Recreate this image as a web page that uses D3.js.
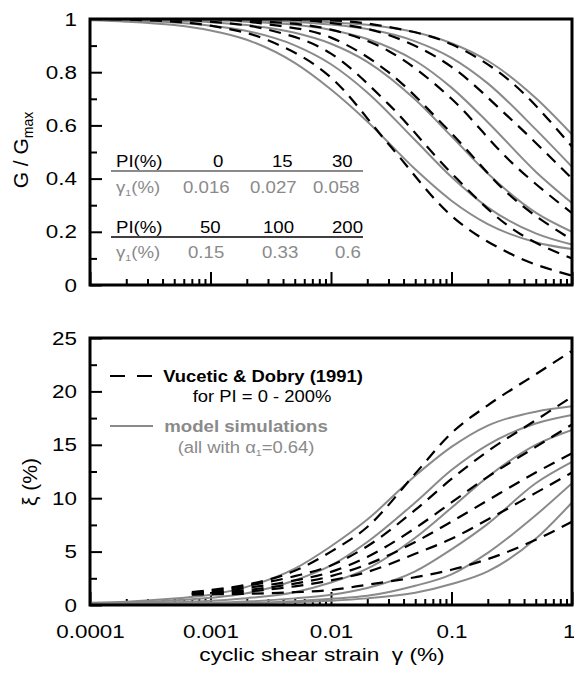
<!DOCTYPE html>
<html>
<head>
<meta charset="utf-8">
<script src="https://cdnjs.cloudflare.com/ajax/libs/d3/7.8.5/d3.min.js"></script>
<style>
  body { margin: 0; background: #fff; }
  text { font-family: 'Liberation Sans', Arial, sans-serif; }
</style>
</head>
<body>
<svg width="574" height="673"></svg>
<script>

// strain grids (%)
let strainModel = [1e-4, 2e-4, 5e-4, 1e-3, 2e-3, 5e-3, 0.01, 0.02, 0.05, 0.1, 0.2, 0.5, 1];
let strainVD = [1e-4, 3e-4, 1e-3, 3e-3, 0.01, 0.03, 0.1, 0.3, 1];
let strainVDdamp = [0.0007, 0.001, 0.002, 0.005, 0.01, 0.02, 0.05, 0.1, 0.2, 0.5, 1];

let PI = [0, 15, 30, 50, 100, 200];
let gamma1 = ['0.016', '0.027', '0.058', '0.15', '0.33', '0.6'];

// G/Gmax, Vucetic & Dobry (1991)
let vdG0   = [1, 0.995, 0.975, 0.92, 0.78, 0.53, 0.26, 0.12, 0.035];
let vdG15  = [1, 1, 0.99, 0.96, 0.87, 0.68, 0.42, 0.22, 0.10];
let vdG30  = [1, 1, 1, 0.98, 0.93, 0.80, 0.57, 0.34, 0.17];
let vdG50  = [1, 1, 1, 0.99, 0.96, 0.88, 0.70, 0.47, 0.27];
let vdG100 = [1, 1, 1, 1, 0.985, 0.94, 0.82, 0.63, 0.40];
let vdG200 = [1, 1, 1, 1, 0.995, 0.97, 0.905, 0.77, 0.52];

// G/Gmax, model simulations
let modG0   = [0.995, 0.99, 0.977, 0.957, 0.922, 0.835, 0.735, 0.615, 0.435, 0.317, 0.229, 0.161, 0.135];
let modG15  = [0.997, 0.994, 0.987, 0.975, 0.955, 0.901, 0.830, 0.724, 0.544, 0.406, 0.292, 0.194, 0.152];
let modG30  = [0.998, 0.997, 0.993, 0.988, 0.977, 0.948, 0.907, 0.839, 0.697, 0.559, 0.419, 0.272, 0.200];
let modG50  = [0.999, 0.999, 0.997, 0.995, 0.990, 0.978, 0.959, 0.925, 0.843, 0.742, 0.612, 0.426, 0.308];
let modG100 = [1, 1, 0.999, 0.997, 0.995, 0.989, 0.979, 0.962, 0.916, 0.854, 0.758, 0.585, 0.444];
let modG200 = [1, 1, 1, 0.999, 0.998, 0.994, 0.988, 0.978, 0.950, 0.909, 0.843, 0.703, 0.566];

// damping (%), Vucetic & Dobry (1991)
let vdD0   = [1.2, 1.4, 1.9, 3.2, 5.0, 7.3, 12.3, 16.1, 18.7, 21.6, 23.8];
let vdD15  = [1.1, 1.3, 1.8, 2.7, 3.7, 5.5, 8.9, 11.8, 14.4, 17.3, 19.5];
let vdD30  = [1.1, 1.2, 1.6, 2.3, 3.1, 4.5, 7.2, 9.6, 12.0, 14.8, 16.9];
let vdD50  = [1.0, 1.1, 1.4, 2.0, 2.7, 3.8, 5.9, 7.8, 9.8, 12.4, 14.2];
let vdD100 = [1.0, 1.05, 1.25, 1.75, 2.3, 3.1, 4.8, 6.2, 8.0, 10.5, 12.4];
let vdD200 = [1.0, 1.0, 1.05, 1.2, 1.4, 1.9, 2.6, 3.3, 4.3, 6.1, 7.8];

// damping (%), model simulations
let modD0   = [0.2, 0.3, 0.6, 0.95, 1.7, 3.4, 5.5, 8.0, 12.1, 14.8, 16.8, 18.1, 18.6];
let modD15  = [0.15, 0.22, 0.43, 0.67, 1.1, 2.3, 3.7, 5.9, 9.6, 12.64, 15.0, 17.0, 17.8];
let modD30  = [0.08, 0.14, 0.25, 0.40, 0.64, 1.2, 2.1, 3.4, 6.3, 9.11, 12.0, 15.0, 16.4];
let modD50  = [0.05, 0.07, 0.14, 0.2, 0.32, 0.62, 0.95, 1.59, 3.15, 5.21, 7.6, 11.4, 13.4];
let modD100 = [0.03, 0.04, 0.07, 0.1, 0.19, 0.36, 0.58, 0.86, 1.8, 2.87, 4.88, 8.4, 11.4];
let modD200 = [0.02, 0.03, 0.05, 0.08, 0.14, 0.25, 0.39, 0.62, 1.14, 1.96, 3.15, 6.2, 9.6];

let xTicks = [1e-4, 1e-3, 1e-2, 0.1, 1];
let xTickLabels = ['0.0001', '0.001', '0.01', '0.1', '1'];
let gTicks = [0, 0.2, 0.4, 0.6, 0.8, 1];
let gTickLabels = ['0', '0.2', '0.4', '0.6', '0.8', '1'];
let dTicks = [0, 5, 10, 15, 20, 25];


let svg = d3.select('svg');
let grey = '#8a8a8a';
let SX = 1.18;   // the lettering of the original is a little wide

let left = 90, right = 572;
let top1 = { top: 19, bottom: 285 };
let top2 = { top: 338, bottom: 605 };

let x = d3.scaleLog().domain([1e-4, 1]).range([left, right]);
let yG = d3.scaleLinear().domain([0, 1]).range([top1.bottom, top1.top]);
let yD = d3.scaleLinear().domain([0, 25]).range([top2.bottom, top2.top]);

let minorX = [];
for (let e = -4; e < 0; e++) for (let m = 2; m <= 9; m++) minorX.push(m * Math.pow(10, e));

function txt(px, py, size, str) {
    return svg.append('text')
        .attr('transform', 'translate(' + px + ',' + py + ') scale(' + SX + ',1)')
        .attr('font-size', size)
        .text(str);
}

function panel(y, box, id, minorY, labels) {
    svg.append('clipPath').attr('id', id)
        .append('rect')
        .attr('x', left).attr('y', box.top)
        .attr('width', right - left).attr('height', box.bottom - box.top);

    // x ticks (inward)
    let gx = svg.append('g').attr('transform', 'translate(0,' + box.bottom + ')');
    gx.call(d3.axisBottom(x).tickValues(minorX).tickSize(-6).tickFormat(''));
    let gx2 = svg.append('g').attr('transform', 'translate(0,' + box.bottom + ')');
    gx2.call(d3.axisBottom(x).tickValues(xTicks).tickSize(-13).tickPadding(20)
        .tickFormat((d, i) => labels ? xTickLabels[i] : ''));
    gx2.selectAll('text').attr('transform', 'scale(' + SX + ',1)');
    gx2.selectAll('text').filter(d => d === 1)
        .attr('text-anchor', 'end').attr('x', 3 / SX);

    let gy = svg.append('g').attr('transform', 'translate(' + left + ',0)');
    gy.call(d3.axisLeft(y).tickValues(minorY).tickSize(-7).tickFormat(''));
    let gy2 = svg.append('g').attr('transform', 'translate(' + left + ',0)');
    gy2.call(d3.axisLeft(y).tickValues(y === yG ? gTicks : dTicks).tickSize(-12).tickPadding(14)
        .tickFormat((d, i) => y === yG ? gTickLabels[i] : d));
    gy2.selectAll('text').attr('transform', 'scale(' + SX + ',1)').attr('x', -13 / SX);

    svg.selectAll('.domain').remove();
    svg.selectAll('.tick line').attr('stroke', '#000').attr('stroke-width', 2);
    svg.selectAll('.tick text').attr('font-size', 19).attr('fill', '#000')
        .style('font-family', "'Liberation Sans', Arial, sans-serif");
}

panel(yG, top1, 'clipG', [0.1, 0.3, 0.5, 0.7, 0.9], false);
panel(yD, top2, 'clipD', [2.5, 7.5, 12.5, 17.5, 22.5], true);

function drawCurve(xs, ys, y, clip, dashed) {
    let pts = xs.map((d, i) => [d, ys[i]]);
    svg.append('path')
        .datum(pts)
        .attr('clip-path', 'url(#' + clip + ')')
        .attr('fill', 'none')
        .attr('stroke', dashed ? '#000' : grey)
        .attr('stroke-width', dashed ? 2.2 : 2)
        .attr('stroke-dasharray', dashed ? '12,8' : null)
        .attr('d', d3.line().curve(d3.curveMonotoneX)
            .x(d => x(d[0])).y(d => y(d[1])));
}

[modG0, modG15, modG30, modG50, modG100, modG200].forEach(s => drawCurve(strainModel, s, yG, 'clipG', false));
[vdG0, vdG15, vdG30, vdG50, vdG100, vdG200].forEach(s => drawCurve(strainVD, s, yG, 'clipG', true));
[modD0, modD15, modD30, modD50, modD100, modD200].forEach(s => drawCurve(strainModel, s, yD, 'clipD', false));
[vdD0, vdD15, vdD30, vdD50, vdD100, vdD200].forEach(s => drawCurve(strainVDdamp, s, yD, 'clipD', true));

// frames
[top1, top2].forEach(b => {
    svg.append('rect')
        .attr('x', left).attr('y', b.top)
        .attr('width', right - left).attr('height', b.bottom - b.top)
        .attr('fill', 'none').attr('stroke', '#000').attr('stroke-width', 3);
});

// axis titles
let gl = svg.append('text')
    .attr('transform', 'translate(28,150) rotate(-90)')
    .attr('text-anchor', 'middle').attr('font-size', 21);
gl.append('tspan').text('G / G');
gl.append('tspan').attr('font-size', 14).attr('dy', 5).text('max');

svg.append('text')
    .attr('transform', 'translate(37,482) rotate(-90)')
    .attr('text-anchor', 'middle').attr('font-size', 21)
    .text('ξ (%)');

txt(322, 661, 19.2, 'cyclic shear strain  γ (%)')
    .attr('text-anchor', 'middle').attr('xml:space', 'preserve');

// PI / gamma1 tables
let headX = [[213, 272, 332], [200, 263, 332]];
let valX = [[183, 250, 313], [188, 262, 335]];
let rowY = [[167, 193], [233, 258]];
let ruleY = [171, 237];

[0, 1].forEach(t => {
    svg.append('line')
        .attr('x1', 111).attr('x2', 363)
        .attr('y1', ruleY[t]).attr('y2', ruleY[t])
        .attr('stroke', t === 0 ? grey : '#000')
        .attr('stroke-width', t === 0 ? 2 : 1.5);

    txt(116, rowY[t][0], 15.8, 'PI(%)');
    let g1 = txt(116, rowY[t][1], 15.8, '').attr('fill', grey);
    g1.append('tspan').text('γ');
    g1.append('tspan').attr('font-size', 9).attr('dy', 3).text('1');
    g1.append('tspan').attr('dy', -3).text('(%)');

    for (let c = 0; c < 3; c++) {
        txt(headX[t][c], rowY[t][0], 15.8, PI[t * 3 + c]);
        txt(valX[t][c], rowY[t][1], 15.8, gamma1[t * 3 + c]).attr('fill', grey);
    }
});

// legend
svg.append('line')
    .attr('x1', 110).attr('x2', 153).attr('y1', 376).attr('y2', 376)
    .attr('stroke', '#000').attr('stroke-width', 2.2).attr('stroke-dasharray', '15,12');
txt(263, 382, 15.6, 'Vucetic & Dobry (1991)')
    .attr('text-anchor', 'middle').attr('font-weight', 'bold');
txt(262, 402, 15.6, 'for PI = 0 - 200%')
    .attr('text-anchor', 'middle');

svg.append('line')
    .attr('x1', 110).attr('x2', 153).attr('y1', 426).attr('y2', 426)
    .attr('stroke', grey).attr('stroke-width', 2);
txt(246, 432, 15.8, 'model simulations')
    .attr('text-anchor', 'middle').attr('font-weight', 'bold').attr('fill', grey);
let al = txt(246, 453, 15.6, '')
    .attr('text-anchor', 'middle').attr('fill', grey);
al.append('tspan').text('(all with α');
al.append('tspan').attr('font-size', 9).attr('dy', 3).text('1');
al.append('tspan').attr('dy', -3).text('=0.64)');

</script>
</body>
</html>
